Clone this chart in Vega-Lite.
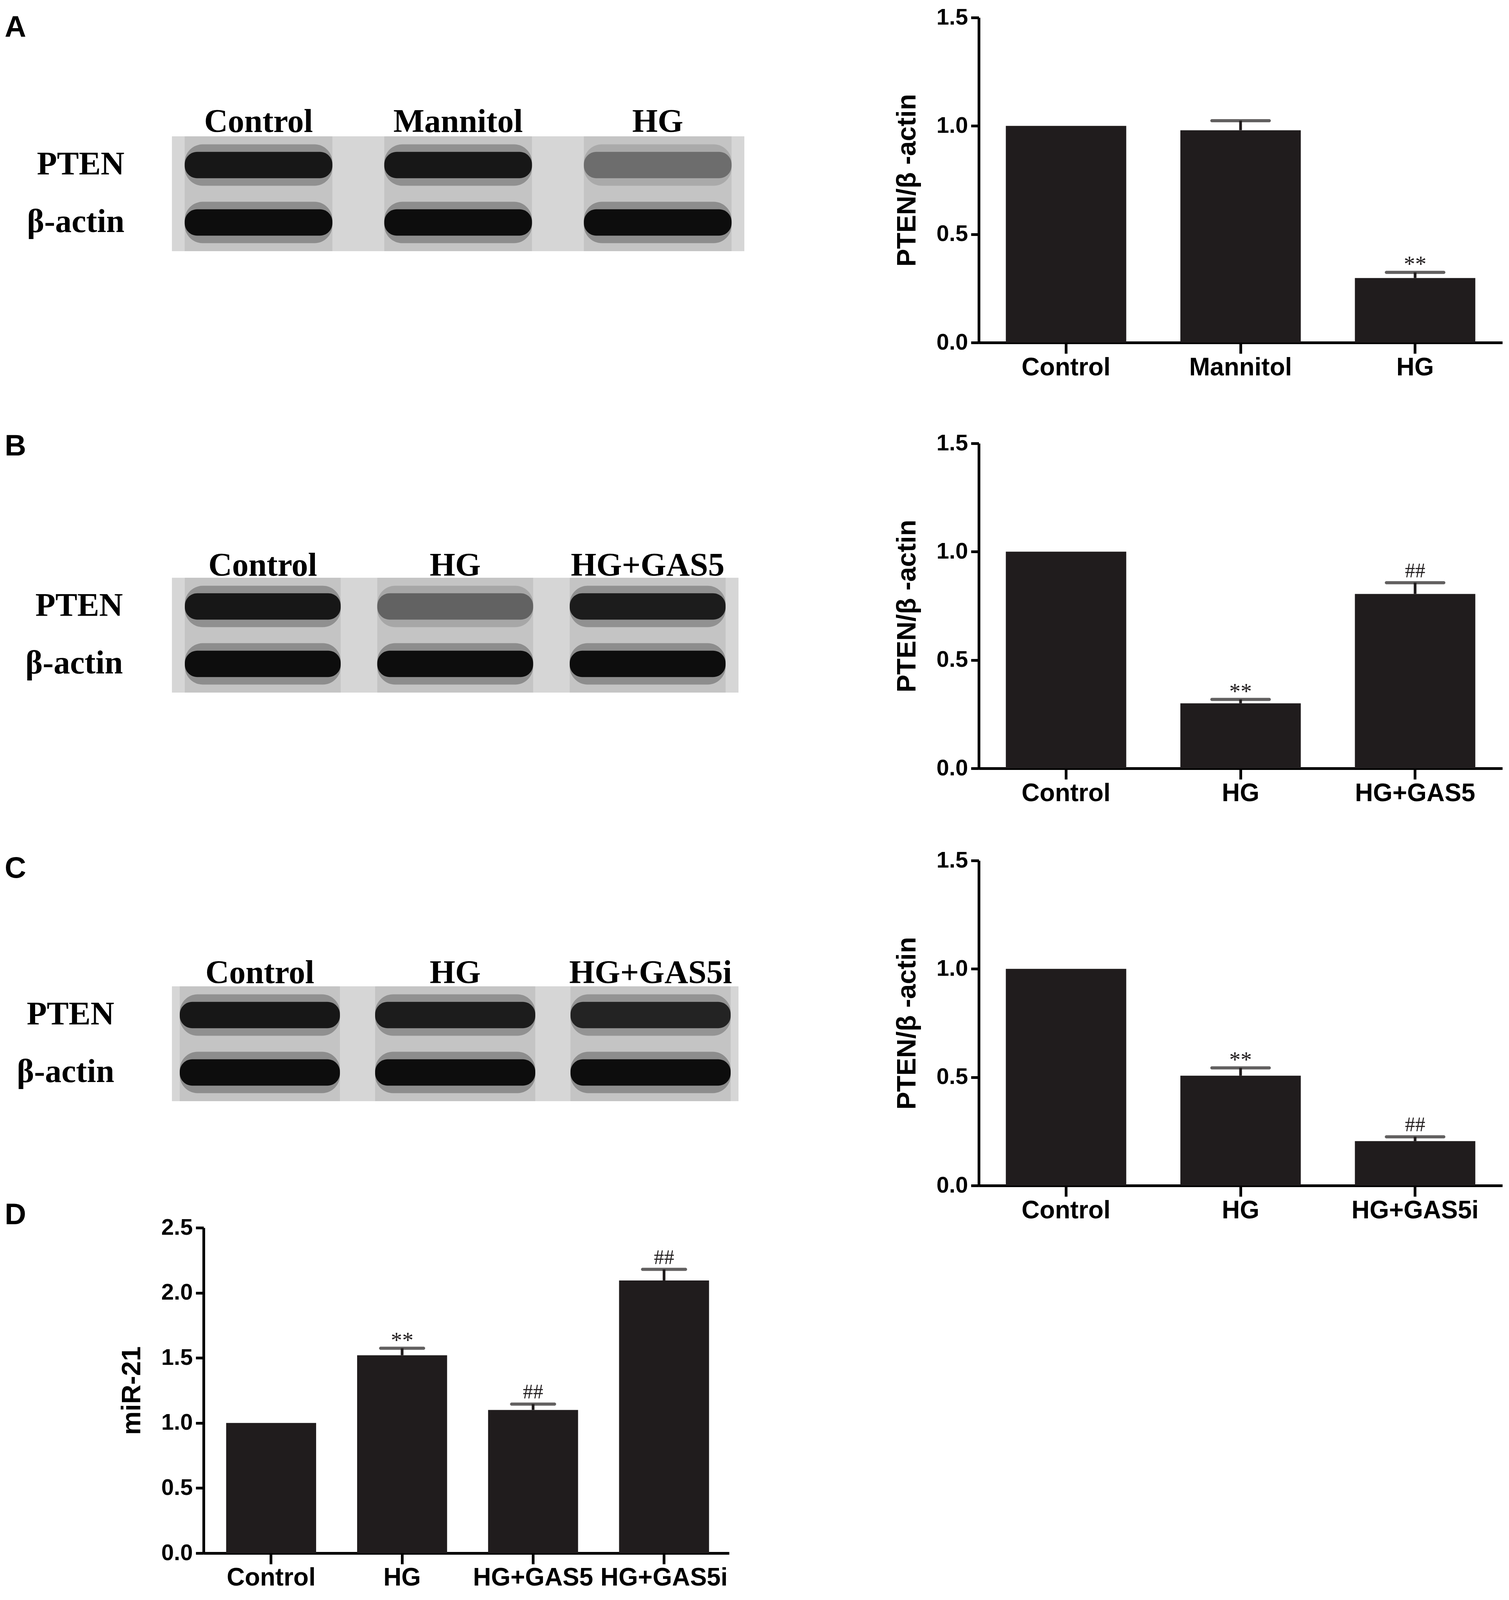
{
  "$schema": "https://vega.github.io/schema/vega-lite/v6.json",
  "background": "white",
  "padding": {"left": 12, "top": 16, "right": 5, "bottom": 0},
  "config": {"view": {"stroke": null}, "axis": {"grid": false, "labelLimit": 0}},
  "spacing": 383,
  "resolve": {"scale": {"x": "independent", "y": "independent", "color": "independent"}},
  "hconcat": [
    {
      "spacing": 452,
      "resolve": {"scale": {"x": "independent", "y": "independent", "color": "independent"}},
      "vconcat": [
        {
          "title": {"text": "A", "anchor": "start", "frame": "group", "dx": -428, "offset": -141, "baseline": "bottom", "fontSize": 76, "font": "Liberation Sans", "fontWeight": "bold", "color": "black"},
          "width": 1465, "height": 598,
          "data": {"values": [
            {"lane": "Control", "protein": "PTEN", "intensity": 0.95},
            {"lane": "Mannitol", "protein": "PTEN", "intensity": 0.95},
            {"lane": "HG", "protein": "PTEN", "intensity": 0.5},
            {"lane": "Control", "protein": "β-actin", "intensity": 1},
            {"lane": "Mannitol", "protein": "β-actin", "intensity": 1},
            {"lane": "HG", "protein": "β-actin", "intensity": 1}
          ]},
          "layer": [
            {"mark": {"type": "rect", "color": "#d6d6d6"}, "encoding": {
              "y": {"field": "protein", "type": "nominal", "scale": {"domain": ["pad1", "pad2", "PTEN", "β-actin"], "paddingInner": 0, "paddingOuter": 0.034, "align": 1},
                "axis": {"values": ["PTEN", "β-actin"], "title": null, "domain": false, "ticks": false, "tickSize": 0, "labelFont": "Liberation Serif", "labelFontWeight": "bold", "labelFontSize": 84, "labelColor": "black", "labelPadding": 122}}
            }},
            {"mark": {"type": "rect", "color": "#c4c4c4"}, "encoding": {
              "y": {"field": "protein", "type": "nominal"},
              "x": {"field": "lane", "type": "nominal", "sort": ["Control", "Mannitol", "HG"], "scale": {"paddingInner": 0.26, "paddingOuter": 0.064},
                "axis": {"orient": "top", "offset": -304, "title": null, "labelAngle": 0, "domain": false, "ticks": false, "labelFont": "Liberation Serif", "labelFontWeight": "bold", "labelFontSize": 84, "labelColor": "black", "labelPadding": -6}}
            }},
            {"mark": {"type": "rect", "cornerRadius": 46, "opacity": 0.3, "height": {"band": 0.72}}, "encoding": {
              "x": {"field": "lane", "type": "nominal", "sort": ["Control", "Mannitol", "HG"]},
              "y": {"field": "protein", "type": "nominal"},
              "color": {"field": "intensity", "type": "quantitative", "scale": {"domain": [0, 1], "range": ["#dddddd", "#0d0d0d"]}, "legend": null}
            }},
            {"mark": {"type": "rect", "cornerRadius": 32, "height": {"band": 0.46}}, "encoding": {
              "x": {"field": "lane", "type": "nominal", "sort": ["Control", "Mannitol", "HG"]},
              "y": {"field": "protein", "type": "nominal"},
              "color": {"field": "intensity", "type": "quantitative", "legend": null}
            }}
          ]
        },
        {
          "spacing": 403,
          "resolve": {"scale": {"x": "independent", "y": "independent", "color": "independent"}},
          "vconcat": [
            {
              "title": {"text": "B", "anchor": "start", "frame": "group", "dx": -428, "offset": -163, "baseline": "bottom", "fontSize": 76, "font": "Liberation Sans", "fontWeight": "bold", "color": "black"},
              "width": 1450, "height": 678,
              "data": {"values": [
                {"lane": "Control", "protein": "PTEN", "intensity": 0.95},
                {"lane": "HG", "protein": "PTEN", "intensity": 0.55},
                {"lane": "HG+GAS5", "protein": "PTEN", "intensity": 0.92},
                {"lane": "Control", "protein": "β-actin", "intensity": 1},
                {"lane": "HG", "protein": "β-actin", "intensity": 1},
                {"lane": "HG+GAS5", "protein": "β-actin", "intensity": 1}
              ]},
              "layer": [
                {"mark": {"type": "rect", "color": "#d6d6d6"}, "encoding": {
                  "y": {"field": "protein", "type": "nominal", "scale": {"domain": ["pad1", "pad2", "PTEN", "β-actin"], "paddingInner": 0, "paddingOuter": 0.306, "align": 1},
                    "axis": {"values": ["PTEN", "β-actin"], "title": null, "domain": false, "ticks": false, "tickSize": 0, "labelFont": "Liberation Serif", "labelFontWeight": "bold", "labelFontSize": 84, "labelColor": "black", "labelPadding": 126}}
                }},
                {"mark": {"type": "rect", "color": "#c4c4c4"}, "encoding": {
                  "y": {"field": "protein", "type": "nominal"},
                  "x": {"field": "lane", "type": "nominal", "sort": ["Control", "HG", "HG+GAS5"], "scale": {"paddingInner": 0.19, "paddingOuter": 0.067},
                    "axis": {"orient": "top", "offset": -384, "title": null, "labelAngle": 0, "domain": false, "ticks": false, "labelFont": "Liberation Serif", "labelFontWeight": "bold", "labelFontSize": 84, "labelColor": "black", "labelPadding": -12}}
                }},
                {"mark": {"type": "rect", "cornerRadius": 46, "opacity": 0.3, "height": {"band": 0.72}}, "encoding": {
                  "x": {"field": "lane", "type": "nominal", "sort": ["Control", "HG", "HG+GAS5"]},
                  "y": {"field": "protein", "type": "nominal"},
                  "color": {"field": "intensity", "type": "quantitative", "scale": {"domain": [0, 1], "range": ["#dddddd", "#0d0d0d"]}, "legend": null}
                }},
                {"mark": {"type": "rect", "cornerRadius": 32, "height": {"band": 0.46}}, "encoding": {
                  "x": {"field": "lane", "type": "nominal", "sort": ["Control", "HG", "HG+GAS5"]},
                  "y": {"field": "protein", "type": "nominal"},
                  "color": {"field": "intensity", "type": "quantitative", "legend": null}
                }}
              ]
            },
            {
              "spacing": 254,
              "resolve": {"scale": {"x": "independent", "y": "independent", "color": "independent"}},
              "vconcat": [
                {
                  "title": {"text": "C", "anchor": "start", "frame": "group", "dx": -428, "offset": -163, "baseline": "bottom", "fontSize": 76, "font": "Liberation Sans", "fontWeight": "bold", "color": "black"},
                  "width": 1450, "height": 643,
                  "data": {"values": [
                    {"lane": "Control", "protein": "PTEN", "intensity": 0.95},
                    {"lane": "HG", "protein": "PTEN", "intensity": 0.92},
                    {"lane": "HG+GAS5i", "protein": "PTEN", "intensity": 0.88},
                    {"lane": "Control", "protein": "β-actin", "intensity": 1},
                    {"lane": "HG", "protein": "β-actin", "intensity": 1},
                    {"lane": "HG+GAS5i", "protein": "β-actin", "intensity": 1}
                  ]},
                  "layer": [
                    {"mark": {"type": "rect", "color": "#d6d6d6"}, "encoding": {
                      "y": {"field": "protein", "type": "nominal", "scale": {"domain": ["pad1", "pad2", "PTEN", "β-actin"], "paddingInner": 0, "paddingOuter": 0.187, "align": 1},
                        "axis": {"values": ["PTEN", "β-actin"], "title": null, "domain": false, "ticks": false, "tickSize": 0, "labelFont": "Liberation Serif", "labelFontWeight": "bold", "labelFontSize": 84, "labelColor": "black", "labelPadding": 148}}
                    }},
                    {"mark": {"type": "rect", "color": "#c4c4c4"}, "encoding": {
                      "y": {"field": "protein", "type": "nominal"},
                      "x": {"field": "lane", "type": "nominal", "sort": ["Control", "HG", "HG+GAS5i"], "scale": {"paddingInner": 0.18, "paddingOuter": 0.04},
                        "axis": {"orient": "top", "offset": -349, "title": null, "labelAngle": 0, "domain": false, "ticks": false, "labelFont": "Liberation Serif", "labelFontWeight": "bold", "labelFontSize": 84, "labelColor": "black", "labelPadding": -9}}
                    }},
                    {"mark": {"type": "rect", "cornerRadius": 46, "opacity": 0.3, "height": {"band": 0.72}}, "encoding": {
                      "x": {"field": "lane", "type": "nominal", "sort": ["Control", "HG", "HG+GAS5i"]},
                      "y": {"field": "protein", "type": "nominal"},
                      "color": {"field": "intensity", "type": "quantitative", "scale": {"domain": [0, 1], "range": ["#dddddd", "#0d0d0d"]}, "legend": null}
                    }},
                    {"mark": {"type": "rect", "cornerRadius": 32, "height": {"band": 0.46}}, "encoding": {
                      "x": {"field": "lane", "type": "nominal", "sort": ["Control", "HG", "HG+GAS5i"]},
                      "y": {"field": "protein", "type": "nominal"},
                      "color": {"field": "intensity", "type": "quantitative", "legend": null}
                    }}
                  ]
                },
                {
                  "title": {"text": "D", "anchor": "start", "frame": "group", "dx": -428, "offset": -112, "baseline": "bottom", "fontSize": 76, "font": "Liberation Sans", "fontWeight": "bold", "color": "black"},
                  "width": 1426, "height": 833,
                  "data": {"values": [
                    {"group": "Control", "value": 1.0, "upper": 1.0, "sig": ""},
                    {"group": "HG", "value": 1.52, "upper": 1.574, "sig": "**"},
                    {"group": "HG+GAS5", "value": 1.10, "upper": 1.145, "sig": "##"},
                    {"group": "HG+GAS5i", "value": 2.095, "upper": 2.18, "sig": "##"}
                  ]},
                  "encoding": {
                    "x": {"field": "group", "type": "nominal", "sort": null, "scale": {"paddingInner": 0.313, "paddingOuter": 0.2836, "align": 0.73},
                      "axis": {"title": null, "labelAngle": 0, "labelFont": "Liberation Sans", "labelFontWeight": "bold", "labelFontSize": 64, "labelColor": "black", "labelPadding": 3, "tickSize": 28, "tickWidth": 7, "tickColor": "black", "domainWidth": 7, "domainColor": "black", "domainDash": [0, 81, 3000, 1], "labelOverlap": false, "labelBound": false}}
                  },
                  "layer": [
                    {"mark": {"type": "bar", "color": "#201c1d"}, "encoding": {
                      "y": {"field": "value", "type": "quantitative", "scale": {"domain": [0, 2.5], "nice": false},
                        "axis": {"offset": -81, "title": "miR-21", "values": [0, 0.5, 1, 1.5, 2, 2.5], "format": ".1f", "labelFont": "Liberation Sans", "labelFontWeight": "bold", "labelFontSize": 58, "labelColor": "black", "labelPadding": 8, "tickSize": 20, "tickWidth": 7, "tickColor": "black", "domainWidth": 7, "domainColor": "black", "titleFont": "Liberation Sans", "titleFontWeight": "bold", "titleFontSize": 68, "titleColor": "black", "titlePadding": 40}}
                    }},
                    {"transform": [{"filter": "datum.upper > datum.value"}], "mark": {"type": "rule", "strokeWidth": 7, "color": "#201c1d"}, "encoding": {
                      "y": {"field": "value", "type": "quantitative"}, "y2": {"field": "upper"}
                    }},
                    {"transform": [{"filter": "datum.upper > datum.value"}], "mark": {"type": "tick", "thickness": 8, "size": 118, "color": "#201c1d", "cornerRadius": 4}, "encoding": {
                      "y": {"field": "upper", "type": "quantitative"}
                    }},
                    {"transform": [{"filter": "datum.sig == '**'"}], "mark": {"type": "text", "font": "Liberation Serif", "fontSize": 58, "baseline": "alphabetic", "dy": -2, "color": "#201c1d"}, "encoding": {
                      "y": {"field": "upper", "type": "quantitative"}, "text": {"field": "sig"}
                    }},
                    {"transform": [{"filter": "datum.sig == '##'"}], "mark": {"type": "text", "font": "Liberation Serif", "fontSize": 52, "baseline": "alphabetic", "dy": -14, "color": "#201c1d"}, "encoding": {
                      "y": {"field": "upper", "type": "quantitative"}, "text": {"field": "sig"}
                    }}
                  ]
                }
              ]
            }
          ]
        }
      ]
    },
    {
      "spacing": 133,
      "resolve": {"scale": {"x": "independent", "y": "independent"}},
      "vconcat": [
        {
          "width": 1340, "height": 832,
          "data": {"values": [
            {"group": "Control", "value": 1.0, "upper": 1.0, "sig": ""},
            {"group": "Mannitol", "value": 0.98, "upper": 1.024, "sig": ""},
            {"group": "HG", "value": 0.298, "upper": 0.324, "sig": "**"}
          ]},
          "encoding": {
            "x": {"field": "group", "type": "nominal", "sort": null, "scale": {"paddingInner": 0.31, "paddingOuter": 0.155},
              "axis": {"title": null, "labelAngle": 0, "labelFont": "Liberation Sans", "labelFontWeight": "bold", "labelFontSize": 64, "labelColor": "black", "labelPadding": 4, "tickSize": 28, "tickWidth": 7, "tickColor": "black", "domainWidth": 7, "domainColor": "black", "labelOverlap": false, "labelBound": false}}
          },
          "layer": [
            {"mark": {"type": "bar", "color": "#201c1d"}, "encoding": {
              "y": {"field": "value", "type": "quantitative", "scale": {"domain": [0, 1.5], "nice": false},
                "axis": {"title": "PTEN/β -actin", "values": [0, 0.5, 1, 1.5], "format": ".1f", "labelFont": "Liberation Sans", "labelFontWeight": "bold", "labelFontSize": 58, "labelColor": "black", "labelPadding": 8, "tickSize": 20, "tickWidth": 7, "tickColor": "black", "domainWidth": 7, "domainColor": "black", "titleFont": "Liberation Sans", "titleFontWeight": "bold", "titleFontSize": 68, "titleColor": "black", "titlePadding": 40}}
            }},
            {"transform": [{"filter": "datum.upper > datum.value"}], "mark": {"type": "rule", "strokeWidth": 7, "color": "#201c1d"}, "encoding": {
              "y": {"field": "value", "type": "quantitative"}, "y2": {"field": "upper"}
            }},
            {"transform": [{"filter": "datum.upper > datum.value"}], "mark": {"type": "tick", "thickness": 8, "size": 155, "color": "#201c1d", "cornerRadius": 4}, "encoding": {
              "y": {"field": "upper", "type": "quantitative"}
            }},
            {"transform": [{"filter": "datum.sig == '**'"}], "mark": {"type": "text", "font": "Liberation Serif", "fontSize": 58, "baseline": "alphabetic", "dy": -2, "color": "#201c1d"}, "encoding": {
              "y": {"field": "upper", "type": "quantitative"}, "text": {"field": "sig"}
            }}
          ]
        },
        {
          "spacing": 111,
          "resolve": {"scale": {"x": "independent", "y": "independent"}},
          "vconcat": [
            {
              "width": 1340, "height": 832,
              "data": {"values": [
                {"group": "Control", "value": 1.0, "upper": 1.0, "sig": ""},
                {"group": "HG", "value": 0.30, "upper": 0.318, "sig": "**"},
                {"group": "HG+GAS5", "value": 0.805, "upper": 0.857, "sig": "##"}
              ]},
              "encoding": {
                "x": {"field": "group", "type": "nominal", "sort": null, "scale": {"paddingInner": 0.31, "paddingOuter": 0.155},
                  "axis": {"title": null, "labelAngle": 0, "labelFont": "Liberation Sans", "labelFontWeight": "bold", "labelFontSize": 64, "labelColor": "black", "labelPadding": 4, "tickSize": 28, "tickWidth": 7, "tickColor": "black", "domainWidth": 7, "domainColor": "black", "labelOverlap": false, "labelBound": false}}
              },
              "layer": [
                {"mark": {"type": "bar", "color": "#201c1d"}, "encoding": {
                  "y": {"field": "value", "type": "quantitative", "scale": {"domain": [0, 1.5], "nice": false},
                    "axis": {"title": "PTEN/β -actin", "values": [0, 0.5, 1, 1.5], "format": ".1f", "labelFont": "Liberation Sans", "labelFontWeight": "bold", "labelFontSize": 58, "labelColor": "black", "labelPadding": 8, "tickSize": 20, "tickWidth": 7, "tickColor": "black", "domainWidth": 7, "domainColor": "black", "titleFont": "Liberation Sans", "titleFontWeight": "bold", "titleFontSize": 68, "titleColor": "black", "titlePadding": 40}}
                }},
                {"transform": [{"filter": "datum.upper > datum.value"}], "mark": {"type": "rule", "strokeWidth": 7, "color": "#201c1d"}, "encoding": {
                  "y": {"field": "value", "type": "quantitative"}, "y2": {"field": "upper"}
                }},
                {"transform": [{"filter": "datum.upper > datum.value"}], "mark": {"type": "tick", "thickness": 8, "size": 155, "color": "#201c1d", "cornerRadius": 4}, "encoding": {
                  "y": {"field": "upper", "type": "quantitative"}
                }},
                {"transform": [{"filter": "datum.sig == '**'"}], "mark": {"type": "text", "font": "Liberation Serif", "fontSize": 58, "baseline": "alphabetic", "dy": -2, "color": "#201c1d"}, "encoding": {
                  "y": {"field": "upper", "type": "quantitative"}, "text": {"field": "sig"}
                }},
                {"transform": [{"filter": "datum.sig == '##'"}], "mark": {"type": "text", "font": "Liberation Serif", "fontSize": 52, "baseline": "alphabetic", "dy": -14, "color": "#201c1d"}, "encoding": {
                  "y": {"field": "upper", "type": "quantitative"}, "text": {"field": "sig"}
                }}
              ]
            },
            {
              "width": 1340, "height": 832,
              "data": {"values": [
                {"group": "Control", "value": 1.0, "upper": 1.0, "sig": ""},
                {"group": "HG", "value": 0.507, "upper": 0.543, "sig": "**"},
                {"group": "HG+GAS5i", "value": 0.205, "upper": 0.225, "sig": "##"}
              ]},
              "encoding": {
                "x": {"field": "group", "type": "nominal", "sort": null, "scale": {"paddingInner": 0.31, "paddingOuter": 0.155},
                  "axis": {"title": null, "labelAngle": 0, "labelFont": "Liberation Sans", "labelFontWeight": "bold", "labelFontSize": 64, "labelColor": "black", "labelPadding": 4, "tickSize": 28, "tickWidth": 7, "tickColor": "black", "domainWidth": 7, "domainColor": "black", "labelOverlap": false, "labelBound": false}}
              },
              "layer": [
                {"mark": {"type": "bar", "color": "#201c1d"}, "encoding": {
                  "y": {"field": "value", "type": "quantitative", "scale": {"domain": [0, 1.5], "nice": false},
                    "axis": {"title": "PTEN/β -actin", "values": [0, 0.5, 1, 1.5], "format": ".1f", "labelFont": "Liberation Sans", "labelFontWeight": "bold", "labelFontSize": 58, "labelColor": "black", "labelPadding": 8, "tickSize": 20, "tickWidth": 7, "tickColor": "black", "domainWidth": 7, "domainColor": "black", "titleFont": "Liberation Sans", "titleFontWeight": "bold", "titleFontSize": 68, "titleColor": "black", "titlePadding": 40}}
                }},
                {"transform": [{"filter": "datum.upper > datum.value"}], "mark": {"type": "rule", "strokeWidth": 7, "color": "#201c1d"}, "encoding": {
                  "y": {"field": "value", "type": "quantitative"}, "y2": {"field": "upper"}
                }},
                {"transform": [{"filter": "datum.upper > datum.value"}], "mark": {"type": "tick", "thickness": 8, "size": 155, "color": "#201c1d", "cornerRadius": 4}, "encoding": {
                  "y": {"field": "upper", "type": "quantitative"}
                }},
                {"transform": [{"filter": "datum.sig == '**'"}], "mark": {"type": "text", "font": "Liberation Serif", "fontSize": 58, "baseline": "alphabetic", "dy": -2, "color": "#201c1d"}, "encoding": {
                  "y": {"field": "upper", "type": "quantitative"}, "text": {"field": "sig"}
                }},
                {"transform": [{"filter": "datum.sig == '##'"}], "mark": {"type": "text", "font": "Liberation Serif", "fontSize": 52, "baseline": "alphabetic", "dy": -14, "color": "#201c1d"}, "encoding": {
                  "y": {"field": "upper", "type": "quantitative"}, "text": {"field": "sig"}
                }}
              ]
            }
          ]
        }
      ]
    }
  ]
}
